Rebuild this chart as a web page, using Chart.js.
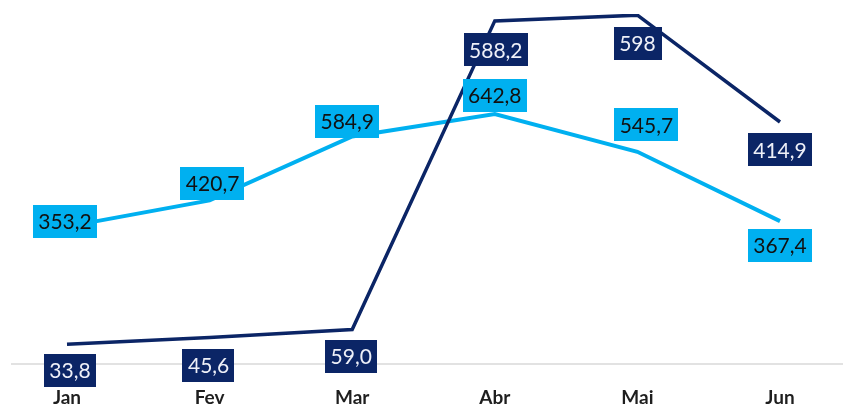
<!DOCTYPE html>
<html>
<head>
<meta charset="utf-8">
<script src="https://cdn.jsdelivr.net/npm/chart.js@4.4.1/dist/chart.umd.min.js"></script>
<style>
  html, body { margin: 0; padding: 0; background: #ffffff; }
  #wrap { width: 843px; height: 405px; position: relative; }
</style>
</head>
<body>
<div id="wrap"><canvas id="c" width="843" height="405"></canvas></div>
<script>
// ---- Data ----
const categories = ['Jan', 'Fev', 'Mar', 'Abr', 'Mai', 'Jun'];
const serieEscura = [33.8, 45.6, 59.0, 588.2, 598, 414.9];
const serieClara = [353.2, 420.7, 584.9, 642.8, 545.7, 367.4];
const rotulosEscura = ['33,8', '45,6', '59,0', '588,2', '598', '414,9'];
const rotulosClara = ['353,2', '420,7', '584,9', '642,8', '545,7', '367,4'];

// ---- Styles ----
const corEscura = '#0b2566';
const corClara = '#00b0f0';
const offsetsEscura = [[3, 26], [-1, 28], [-1, 27], [1, 29], [0, 28], [0, 28]];
const offsetsClara = [[-2, -5], [3, -17], [-5, -15], [0, -19], [9, -27], [0, 24]];

const labelPlugin = {
  id: 'boxLabels',
  afterDatasetsDraw(chart) {
    const ctx = chart.ctx;
    ctx.save();
    ctx.font = '21px Lato';
    ctx.textAlign = 'center';
    ctx.textBaseline = 'middle';
    const sets = [
      { idx: 1, texts: rotulosClara, offs: offsetsClara, bg: corClara, fg: '#111111' },
      { idx: 0, texts: rotulosEscura, offs: offsetsEscura, bg: corEscura, fg: '#eef0f8' }
    ];
    sets.forEach(s => {
      const meta = chart.getDatasetMeta(s.idx);
      meta.data.forEach((pt, i) => {
        const t = s.texts[i];
        const w = ctx.measureText(t).width + 11;
        const h = 33;
        const cx = pt.x + s.offs[i][0];
        const cy = pt.y + s.offs[i][1];
        ctx.fillStyle = s.bg;
        ctx.fillRect(Math.round(cx - w / 2), Math.round(cy - h / 2), Math.round(w), h);
        ctx.fillStyle = s.fg;
        ctx.fillText(t, cx, cy + 1);
      });
    });
    ctx.restore();
  }
};

const baselinePlugin = {
  id: 'baseline',
  beforeDatasetsDraw(chart) {
    const ctx = chart.ctx;
    const y = chart.scales.yEscura.getPixelForValue(0);
    ctx.save();
    ctx.strokeStyle = '#d9d9d9';
    ctx.lineWidth = 1.5;
    ctx.beginPath();
    ctx.moveTo(11, y);
    ctx.lineTo(843, y);
    ctx.stroke();
    ctx.restore();
  }
};

new Chart(document.getElementById('c'), {
  type: 'line',
  data: {
    labels: categories,
    datasets: [
      {
        label: 'Escura',
        data: serieEscura,
        borderColor: corEscura,
        borderWidth: 3.5,
        pointRadius: 0,
        tension: 0,
        yAxisID: 'yEscura'
      },
      {
        label: 'Clara',
        data: serieClara,
        borderColor: corClara,
        borderWidth: 4,
        pointRadius: 0,
        tension: 0,
        yAxisID: 'yClara'
      }
    ]
  },
  options: {
    responsive: false,
    animation: false,
    layout: { padding: { left: 67, right: 63, top: 14, bottom: 0 } },
    plugins: { legend: { display: false }, tooltip: { enabled: false } },
    scales: {
      x: {
        offset: false,
        grid: { display: false, drawTicks: false },
        border: { display: false },
        ticks: {
          color: '#1e1e1e',
          font: { family: 'Lato', size: 19, weight: 'bold' },
          padding: 22,
          maxRotation: 0,
          autoSkip: false
        },
        afterFit(scale) { scale.height = 41; }
      },
      yEscura: { display: false, min: 0, max: 600 },
      yClara: { display: false, min: 0, max: 900 }
    }
  },
  plugins: [baselinePlugin, labelPlugin]
});
</script>
</body>
</html>
